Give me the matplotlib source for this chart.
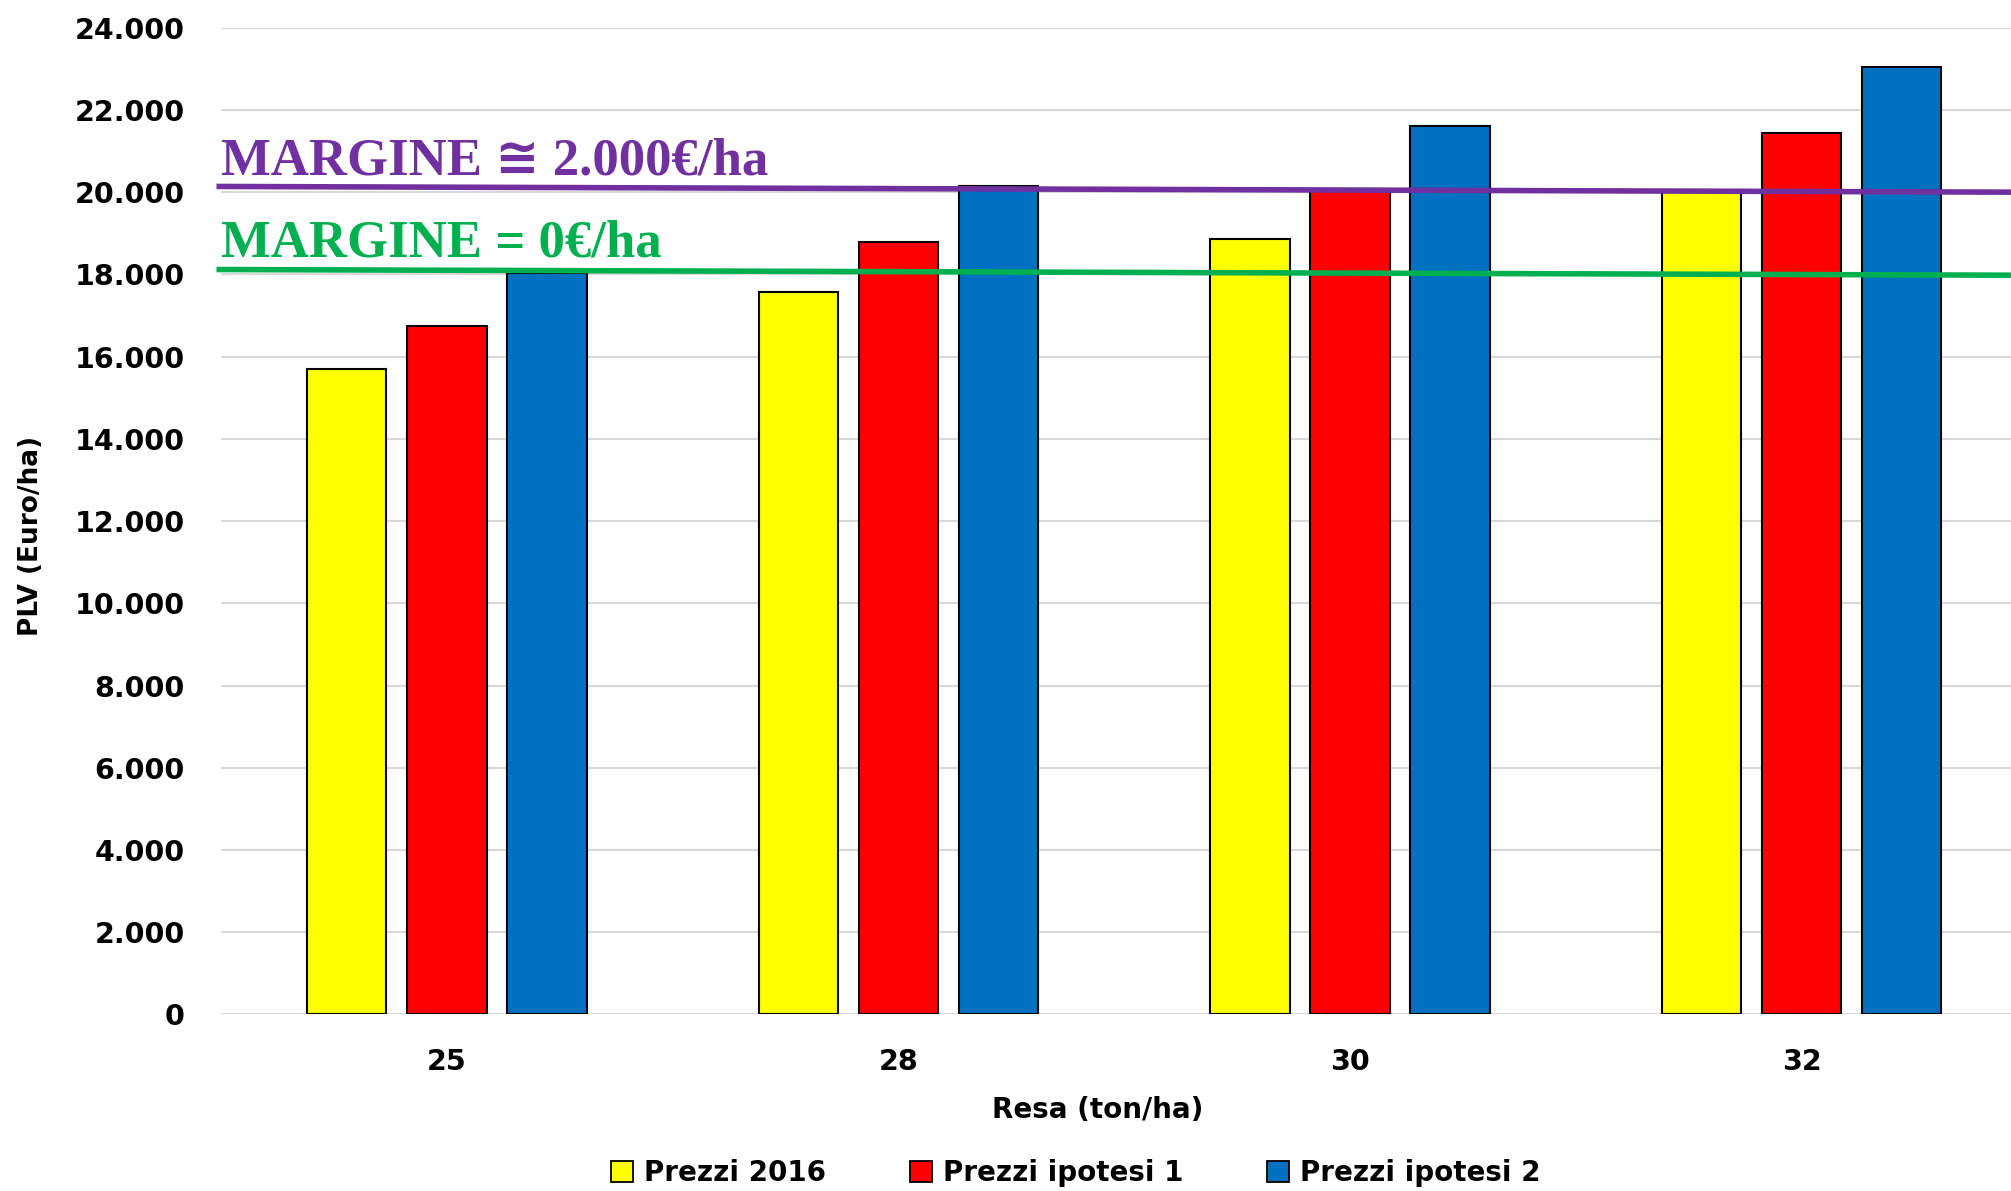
import numpy as np
import matplotlib
matplotlib.use('Agg')
import matplotlib.pyplot as plt
from matplotlib.patches import Patch

# Data
rese = ['25', '28', '30', '32']
prezzi_2016 = [15700, 17570, 18850, 20060]
prezzi_ip1 = [16750, 18790, 20070, 21450]
prezzi_ip2 = [18030, 20160, 21620, 23050]
series_names = ['Prezzi 2016', 'Prezzi ipotesi 1', 'Prezzi ipotesi 2']

# reference lines (slightly sloping, hand drawn in the original)
margine_2000_y = [20140, 20000]
margine_0_y = [18120, 17980]
line_x = [-0.51, 3.5]

COLOURS = ['#FFFF00', '#FF0000', '#0070C0']
SANS = ['DejaVu Sans']
SERIF = ['Liberation Serif', 'DejaVu Serif', 'DejaVu Sans', 'Noto Sans CJK SC']

fig = plt.figure(figsize=(20.11, 11.91), dpi=100)
ax = fig.add_axes([0.1099, 0.1482, 0.8901, 0.8285])

x = np.arange(len(rese))
width = 0.176
offset = 0.2216
for j, (vals, col) in enumerate(zip([prezzi_2016, prezzi_ip1, prezzi_ip2], COLOURS)):
    ax.bar(x + (j - 1) * offset, vals, width, color=col,
           edgecolor='black', linewidth=1.5, zorder=3)

ax.plot(line_x, margine_2000_y, color='#7030A0', linewidth=4,
        zorder=4, solid_capstyle='butt', clip_on=False)
ax.plot(line_x, margine_0_y, color='#00B050', linewidth=4,
        zorder=4, solid_capstyle='butt', clip_on=False)
ax.text(-0.5, 20430, 'MARGINE \u2245 2.000\u20ac/ha', color='#7030A0',
        fontsize=38, fontweight='bold', family=SERIF, va='baseline', zorder=5)
ax.text(-0.5, 18430, 'MARGINE = 0\u20ac/ha', color='#00B050',
        fontsize=38, fontweight='bold', family=SERIF, va='baseline', zorder=5)

ax.set_xlim(-0.5, 3.464)
ax.set_ylim(0, 24000)
ax.set_yticks(np.arange(0, 24001, 2000))
ax.set_yticklabels([f'{v:,}'.replace(',', '.') for v in range(0, 24001, 2000)])
ax.set_xticks(x)
ax.set_xticklabels(rese)
ax.grid(axis='y', color='#D9D9D9', linewidth=1.5, zorder=0)
ax.set_axisbelow(True)
for s in ['top', 'right', 'left', 'bottom']:
    ax.spines[s].set_visible(False)
ax.tick_params(axis='y', length=0, pad=26, labelsize=20.5)
ax.tick_params(axis='x', length=0, pad=24, labelsize=20.5)
for lab in ax.get_xticklabels() + ax.get_yticklabels():
    lab.set_fontweight('bold')
    lab.set_family(SANS)

ax.set_ylabel('PLV (Euro/ha)', fontsize=19, fontweight='bold', family=SANS)
ax.yaxis.set_label_coords(-0.099, 0.485)
ax.set_xlabel('Resa (ton/ha)', fontsize=20, fontweight='bold', family=SANS)
ax.xaxis.set_label_coords(0.49, -0.083)

handles = [Patch(facecolor=c, edgecolor='black', linewidth=1.3) for c in COLOURS]
fig.legend(handles, series_names, loc='center', ncol=3, frameon=False,
           bbox_to_anchor=(0.535, 1 - 1173 / 1191),
           prop={'family': SANS, 'weight': 'bold', 'size': 20},
           handlelength=0.8, handleheight=0.8, handletextpad=0.4,
           columnspacing=3.0)

plt.savefig('out.png', dpi=100)
plt.close()
